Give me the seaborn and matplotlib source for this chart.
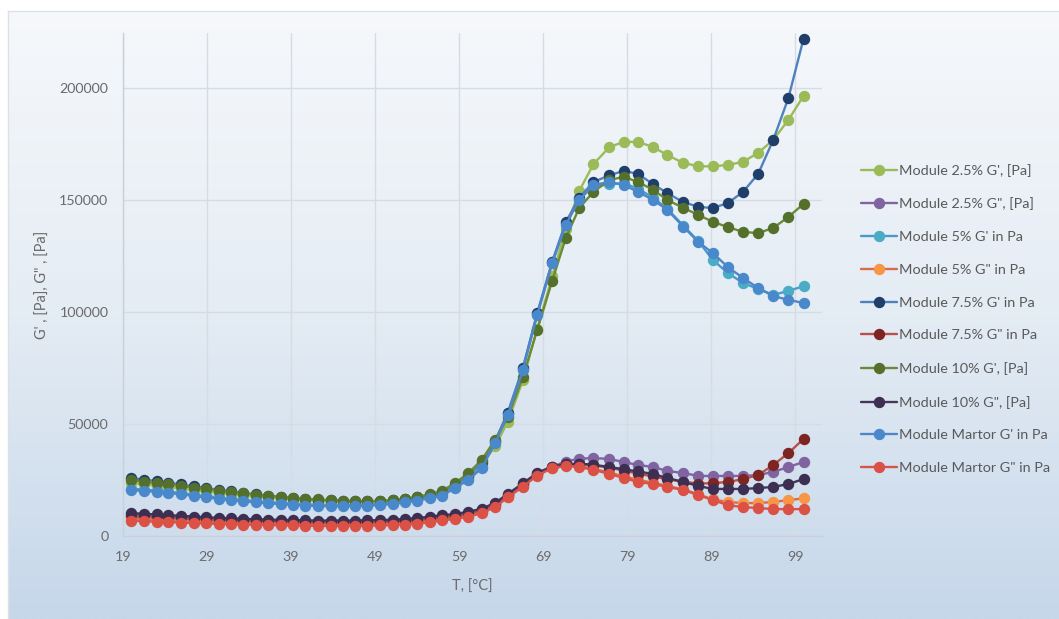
import numpy as np
import pandas as pd
import matplotlib
matplotlib.use("Agg")
import matplotlib.pyplot as plt
import seaborn as sns
from matplotlib.colors import LinearSegmentedColormap

# ---------------- data (values in thousand Pa) ----------------
temperature = [20.0, 21.5, 23.0, 24.4, 25.9, 27.4, 28.9, 30.4, 31.8, 33.3,
               34.8, 36.3, 37.8, 39.2, 40.7, 42.2, 43.7, 45.2, 46.6, 48.1,
               49.6, 51.1, 52.6, 54.0, 55.5, 57.0, 58.5, 60.1, 61.7, 63.3,
               64.8, 66.6, 68.3, 70.1, 71.7, 73.3, 75.0, 76.9, 78.6, 80.3,
               82.1, 83.8, 85.7, 87.5, 89.2, 91.0, 92.8, 94.6, 96.4, 98.2,
               100.0]

m25_gp = [23.5, 23.0, 22.5, 21.9, 21.2, 20.5, 19.8, 19.2, 18.6, 18.0,
          17.5, 17.0, 16.6, 16.2, 15.9, 15.6, 15.4, 15.3, 15.2, 15.3,
          15.5, 15.9, 16.5, 17.3, 18.3, 19.6, 22.5, 26.5, 32.0, 40.0,
          51.0, 69.5, 92.5, 116.0, 137.0, 154.0, 166.0, 173.6, 175.9, 175.9,
          173.6, 170.0, 166.5, 165.0, 165.0, 165.6, 167.0, 171.0, 176.8, 185.7,
          196.4]
m25_gpp = [8.6, 8.4, 8.1, 7.9, 7.7, 7.5, 7.2, 7.0, 6.8, 6.6,
           6.5, 6.3, 6.2, 6.1, 6.0, 5.9, 5.9, 5.9, 5.9, 6.0,
           6.1, 6.3, 6.6, 7.0, 7.6, 8.3, 8.8, 9.8, 11.3, 14.0,
           18.0, 22.8, 27.8, 31.0, 33.2, 34.5, 34.8, 34.4, 33.0, 31.7,
           30.8, 29.0, 28.1, 26.8, 26.8, 26.8, 26.8, 27.2, 28.6, 30.8,
           33.0]
m5_gp = [21.1, 20.7, 20.3, 19.8, 19.2, 18.5, 17.8, 17.2, 16.6, 16.1,
         15.6, 15.2, 14.8, 14.5, 14.2, 14.0, 13.9, 13.9, 13.9, 14.1,
         14.4, 14.9, 15.6, 16.4, 17.4, 18.6, 21.8, 25.6, 31.0, 42.0,
         55.0, 75.0, 99.0, 122.5, 139.5, 150.5, 156.0, 157.0, 157.5, 155.0,
         151.0, 146.0, 138.5, 131.5, 123.2, 117.4, 112.9, 110.3, 107.6, 109.4,
         111.5]
m5_gpp = [7.6, 7.4, 7.2, 7.0, 6.8, 6.6, 6.4, 6.2, 6.0, 5.9,
          5.8, 5.7, 5.6, 5.5, 5.4, 5.3, 5.3, 5.3, 5.3, 5.4,
          5.5, 5.7, 5.9, 6.3, 6.8, 7.5, 8.0, 9.0, 10.6, 13.4,
          17.6, 22.3, 27.2, 30.5, 31.5, 31.2, 30.0, 28.3, 26.6, 25.0,
          23.8, 22.3, 20.8, 18.6, 16.3, 15.2, 14.7, 14.7, 15.2, 16.0,
          16.8]
m75_gp = [25.8, 25.2, 24.5, 23.8, 23.0, 22.2, 21.4, 20.6, 19.9, 19.2,
          18.6, 18.0, 17.5, 17.0, 16.6, 16.2, 15.9, 15.6, 15.5, 15.5,
          15.6, 15.9, 16.4, 17.2, 18.2, 19.7, 22.8, 27.0, 33.0, 42.5,
          55.0, 75.0, 99.5, 122.5, 140.0, 151.0, 158.0, 161.0, 163.0, 161.6,
          157.0, 153.0, 149.0, 146.9, 146.4, 148.6, 153.6, 161.6, 176.8, 195.5,
          221.9]
m75_gpp = [9.4, 9.2, 8.9, 8.6, 8.3, 8.0, 7.7, 7.5, 7.2, 7.0,
           6.8, 6.6, 6.5, 6.4, 6.3, 6.2, 6.1, 6.1, 6.1, 6.2,
           6.3, 6.5, 6.8, 7.2, 7.8, 8.5, 9.0, 10.0, 11.5, 14.2,
           18.2, 23.0, 27.8, 30.8, 32.0, 32.2, 31.5, 30.5, 29.2, 27.8,
           26.6, 25.3, 24.2, 23.4, 23.6, 24.1, 25.4, 27.2, 31.7, 37.0,
           43.3]
m10_gp = [24.8, 24.2, 23.6, 23.0, 22.3, 21.6, 20.9, 20.2, 19.6, 19.0,
          18.5, 18.0, 17.5, 17.1, 16.7, 16.3, 16.0, 15.8, 15.6, 15.6,
          15.7, 16.0, 16.6, 17.5, 18.6, 20.2, 23.6, 28.0, 34.0, 43.0,
          53.0, 71.0, 92.0, 114.0, 133.0, 146.4, 153.6, 158.9, 160.3, 158.0,
          154.5, 150.0, 146.4, 143.3, 140.2, 137.9, 135.7, 135.2, 137.5, 142.4,
          148.2]
m10_gpp = [10.2, 9.9, 9.6, 9.3, 9.0, 8.7, 8.4, 8.1, 7.9, 7.7,
           7.5, 7.3, 7.2, 7.1, 7.0, 6.9, 6.9, 6.9, 6.9, 7.0,
           7.1, 7.3, 7.6, 8.0, 8.6, 9.3, 9.8, 10.8, 12.2, 14.8,
           18.8, 23.5, 28.2, 31.0, 32.0, 32.3, 31.8, 30.8, 29.8, 28.8,
           27.7, 25.9, 24.1, 22.3, 21.0, 21.0, 21.0, 21.4, 21.9, 23.2,
           25.4]
martor_gp = [20.5, 20.1, 19.7, 19.2, 18.6, 17.9, 17.2, 16.6, 16.0, 15.5,
             15.0, 14.6, 14.2, 13.9, 13.6, 13.4, 13.3, 13.3, 13.3, 13.5,
             13.8, 14.3, 15.0, 15.8, 16.8, 18.0, 21.4, 25.0, 30.3, 41.5,
             54.0, 74.0, 98.6, 121.8, 138.8, 150.0, 156.7, 158.0, 156.7, 153.6,
             150.0, 145.5, 138.0, 131.2, 126.3, 120.0, 115.2, 110.7, 107.1, 105.4,
             104.0]
martor_gpp = [6.8, 6.6, 6.4, 6.2, 6.0, 5.8, 5.6, 5.4, 5.3, 5.1,
              5.0, 4.9, 4.8, 4.7, 4.6, 4.5, 4.5, 4.5, 4.5, 4.6,
              4.7, 4.9, 5.1, 5.5, 6.1, 7.0, 7.6, 8.6, 10.2, 13.0,
              17.2, 22.0, 27.0, 30.3, 31.2, 30.8, 29.5, 27.7, 25.9, 24.1,
              23.2, 21.9, 20.5, 18.3, 16.0, 13.8, 12.9, 12.5, 12.0, 12.0,
              12.0]

series_labels = ["Module 2.5% G', [Pa]", 'Module 2.5% G", [Pa]',
                 "Module 5% G' in Pa", 'Module 5% G" in Pa',
                 "Module 7.5% G' in Pa", 'Module 7.5% G" in Pa',
                 "Module 10% G', [Pa]", 'Module 10% G", [Pa]',
                 "Module Martor G' in Pa", 'Module Martor G" in Pa']
series_values = [m25_gp, m25_gpp, m5_gp, m5_gpp, m75_gp, m75_gpp,
                 m10_gp, m10_gpp, martor_gp, martor_gpp]

x_ticks = [19, 29, 39, 49, 59, 69, 79, 89, 99]
y_ticks = [0, 50000, 100000, 150000, 200000]

# ---------------- styles ----------------
line_colors = ["#9BBB59", "#8064A2", "#4A9BCB", "#DA6A4C", "#4F81BD",
               "#B8504B", "#6A8A35", "#453659", "#4F86C6", "#D9534A"]
marker_colors = ["#9BBB59", "#8064A2", "#4BACC6", "#F79646", "#203E6A",
                 "#7E2523", "#55702A", "#3D2F52", "#4A88CC", "#DC5145"]

frames = []
for lab, vals in zip(series_labels, series_values):
    frames.append(pd.DataFrame({"T": temperature,
                                "G": np.asarray(vals) * 1000.0,
                                "series": lab}))
df = pd.concat(frames, ignore_index=True)

sns.set_theme(style="white")
plt.rcParams["font.family"] = ["Lato", "DejaVu Sans"]

W, H = 1059, 619
fig = plt.figure(figsize=(W / 100, H / 100), dpi=100)
fig.patch.set_facecolor("white")

# background gradient of the chart area
bg_x0, bg_top = 8 / W, (H - 11) / H
ax_bg = fig.add_axes([bg_x0, 0, 1 - bg_x0, bg_top], zorder=0)
cmap = LinearSegmentedColormap.from_list("bg", ["#F6F8FB", "#E4ECF4", "#C6D7EA"])
grad = np.linspace(0, 1, 256).reshape(-1, 1)
ax_bg.imshow(grad, aspect="auto", cmap=cmap, extent=[0, 1, 0, 1], origin="upper")
ax_bg.set_xticks([])
ax_bg.set_yticks([])
for s in ["right", "bottom"]:
    ax_bg.spines[s].set_visible(False)
for s in ["top", "left"]:
    ax_bg.spines[s].set_color("#DCE1E7")
    ax_bg.spines[s].set_linewidth(1.0)

ax = fig.add_axes([123 / W, (H - 536) / H, 699 / W, 503 / H], zorder=1)
ax.set_facecolor("none")

for i, lab in enumerate(series_labels):
    sub = df[df["series"] == lab]
    sns.lineplot(data=sub, x="T", y="G", ax=ax, color=line_colors[i],
                 linewidth=1.7, marker="o", markersize=8.2,
                 markerfacecolor=marker_colors[i], markeredgecolor=marker_colors[i],
                 markeredgewidth=0, label=lab, sort=False, zorder=3 + i)

ax.set_xlim(19, 102.2)
ax.set_ylim(0, 224500)
ax.set_xticks(x_ticks)
ax.set_xticklabels([str(v) for v in x_ticks])
ax.set_yticks(y_ticks)
ax.set_yticklabels([str(v) for v in y_ticks])
ax.grid(True, color="#D6DCE4", linewidth=1.0)
ax.set_axisbelow(True)
for s in ["top", "right"]:
    ax.spines[s].set_visible(False)
for s in ["left", "bottom"]:
    ax.spines[s].set_color("#C8D0DA")
    ax.spines[s].set_linewidth(1.0)
ax.tick_params(axis="both", length=0, labelsize=10.3, labelcolor="#6B6B6B")
ax.tick_params(axis="x", pad=11)
ax.tick_params(axis="y", pad=10.5)

ax.set_xlabel("T, [°C]", fontsize=10.5, color="#6B6B6B", labelpad=12)
ax.set_ylabel('G\' , [Pa], G" , [Pa]', fontsize=10.5, color="#6B6B6B", labelpad=7)

handles, labels = ax.get_legend_handles_labels()
ax.legend_.remove()
fig.legend(handles, labels, loc="upper left", bbox_to_anchor=(855 / W, 1 - 158 / H),
           frameon=False, fontsize=10.4, labelcolor="#595959",
           handlelength=2.5, handletextpad=0.15, labelspacing=1.43,
           borderaxespad=0)

fig.savefig("out.png", dpi=100, facecolor=fig.get_facecolor())
